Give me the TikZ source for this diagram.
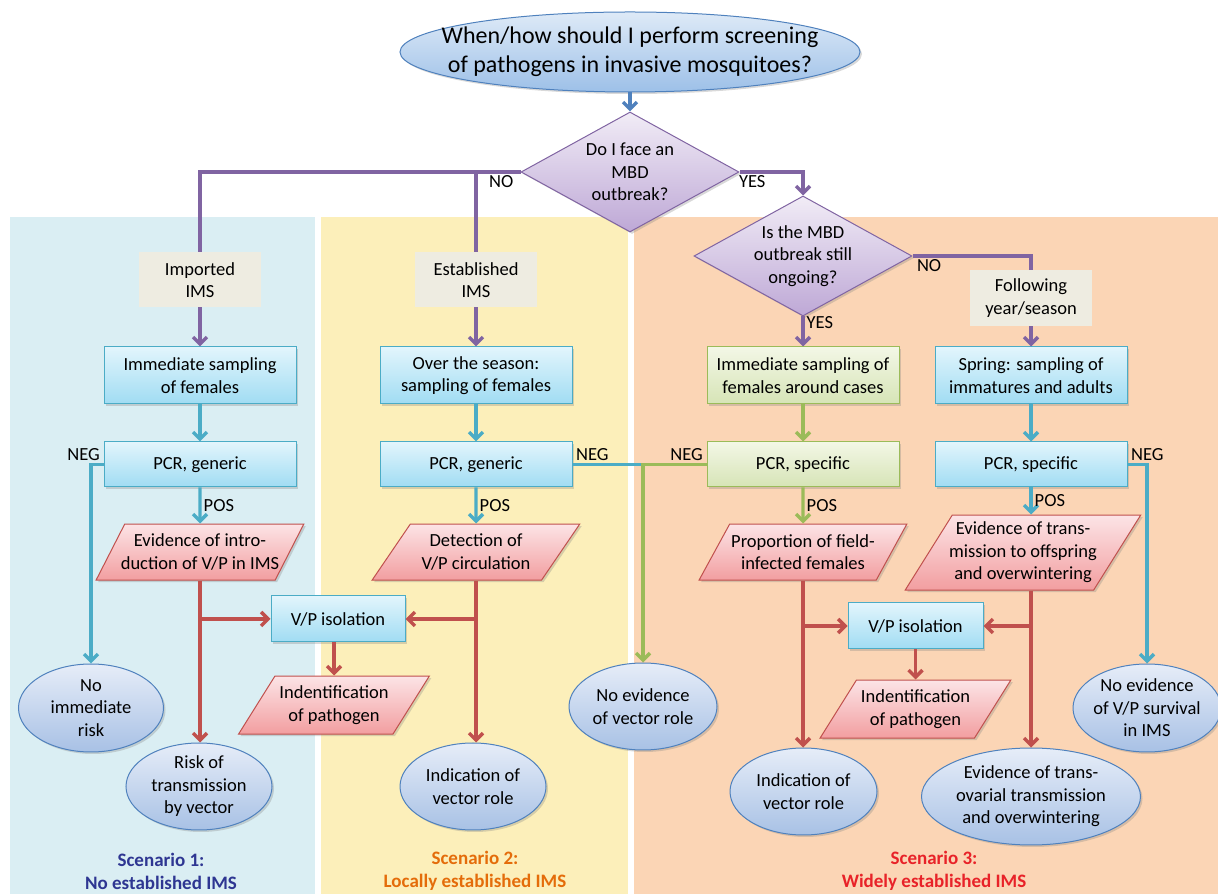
\documentclass[tikz,border=0pt]{standalone}
\usepackage{fontspec}
\setmainfont{Carlito}
\usepackage{tikz}
\usetikzlibrary{arrows.meta,positioning,shapes,shadows}
\definecolor{bluepanel}{RGB}{218,238,243}
\definecolor{yellowpanel}{RGB}{252,239,186}
\definecolor{orangepanel}{RGB}{251,213,181}
\definecolor{qline}{RGB}{79,129,189}
\definecolor{purpleline}{RGB}{128,100,162}
\definecolor{cyanline}{RGB}{75,172,198}
\definecolor{greenline}{RGB}{155,187,89}
\definecolor{redline}{RGB}{192,80,77}
\definecolor{tagfill}{RGB}{238,236,225}
\definecolor{qtop}{RGB}{222,234,247}
\definecolor{qbot}{RGB}{157,192,232}
\definecolor{dtop}{RGB}{241,236,246}
\definecolor{dbot}{RGB}{190,168,214}
\definecolor{btop}{RGB}{226,245,252}
\definecolor{bbot}{RGB}{160,220,243}
\definecolor{gtop}{RGB}{243,247,230}
\definecolor{gbot}{RGB}{214,228,182}
\definecolor{rtop}{RGB}{252,228,230}
\definecolor{rbot}{RGB}{242,158,160}
\definecolor{etop}{RGB}{230,237,248}
\definecolor{ebot}{RGB}{168,193,229}
\definecolor{scenA}{RGB}{46,54,146}
\definecolor{scenB}{RGB}{228,108,10}
\definecolor{scenC}{RGB}{232,34,40}
\newcommand{\bodyfont}{\fontsize{18.5}{22.5}\selectfont}
\tikzstyle{shadowed} = [drop shadow={opacity=0.3, shadow xshift=2pt, shadow yshift=-2pt}]
\tikzstyle{question} = [ellipse, draw=qline, line width=1pt, top color=qtop, bottom color=qbot, inner xsep=-40pt, inner ysep=0pt, minimum width=460pt, minimum height=80pt, align=center, font=\fontsize{24}{29}\selectfont, shadowed]
\tikzstyle{decision} = [diamond, aspect=1.85, draw=purpleline, line width=1pt, top color=dtop, bottom color=dbot, inner sep=0pt, minimum width=218pt, minimum height=120pt, align=center, font=\bodyfont, shadowed]
\tikzstyle{block} = [rectangle, draw=cyanline, line width=1pt, top color=btop, bottom color=bbot, minimum width=192pt, minimum height=57pt, align=center, font=\bodyfont, shadowed]
\tikzstyle{greenblock} = [block, draw=greenline, top color=gtop, bottom color=gbot]
\tikzstyle{result} = [trapezium, trapezium left angle=56, trapezium right angle=124, trapezium stretches=true, draw=redline, line width=1pt, top color=rtop, bottom color=rbot, inner xsep=-8pt, inner ysep=2pt, minimum width=208pt, minimum height=56pt, align=center, font=\bodyfont, shadowed]
\tikzstyle{outcome} = [ellipse, draw=qline, line width=1pt, top color=etop, bottom color=ebot, inner sep=-6pt, minimum width=146pt, minimum height=88pt, align=center, font=\bodyfont, shadowed]
\tikzstyle{tagbox} = [rectangle, fill=tagfill, minimum width=122pt, minimum height=55pt, align=center, font=\bodyfont]
\tikzstyle{ans} = [font=\bodyfont, text=black, inner sep=2pt]
\tikzstyle{scen} = [align=center, font=\fontsize{19}{23}\selectfont\bfseries]
\tikzstyle{flow} = [line width=3.4pt, -{Straight Barb[length=7pt,width=14pt]}]

\begin{document}
\begin{tikzpicture}[x=1pt, y=1pt]
  \useasboundingbox (0,0) rectangle (1218,894);
  \fill[bluepanel] (10,0) rectangle (315,677);
  \fill[yellowpanel] (321,0) rectangle (628,677);
  \fill[orangepanel] (634,0) rectangle (1218,677);

  \node[question] (Q) at (630,842) {When/how should I perform screening\\ of pathogens in invasive mosquitoes?};
  \node[decision] (D1) at (630,722) {Do I face an\\ MBD\\ outbreak?};
  \node[decision] (D2) at (803,638) {Is the MBD\\ outbreak still\\ ongoing?};

  \node[block] (S1) at (200,518.5) {Immediate sampling\\ of females};
  \node[block] (S2) at (476,518.5) {Over the season:\\ sampling of females};
  \node[greenblock] (S3) at (803,518.5) {Immediate sampling of\\ females around cases};
  \node[block] (S4) at (1031,518.5) {Spring: sampling of\\ immatures and adults};

  \node[block, minimum height=45pt, below=37pt of S1] (P1) {PCR, generic};
  \node[block, minimum height=45pt, below=37pt of S2] (P2) {PCR, generic};
  \node[greenblock, minimum height=45pt, below=37pt of S3] (P3) {PCR, specific};
  \node[block, minimum height=45pt, below=37pt of S4] (P4) {PCR, specific};

  \node[result, below=36pt of P1] (R1) {Evidence of intro-\\ duction of V/P in IMS};
  \node[result, below=36pt of P2] (R2) {Detection of\\ V/P circulation};
  \node[result, below=36pt of P3] (R3) {Proportion of field-\\ infected females};
  \node[result, minimum width=236pt, minimum height=75pt, below=27pt of P4, xshift=-8pt] (R4) {Evidence of trans-\\ mission to offspring\\ and overwintering};

  \node[block, minimum width=134pt, minimum height=46pt] (V1) at (338,275) {V/P isolation};
  \node[block, minimum width=135pt, minimum height=46pt] (V2) at (915.5,268) {V/P isolation};
  \node[result, minimum width=191pt, minimum height=58pt, below=33pt of V1, xshift=-4pt] (ID1) {Indentification\\ of pathogen};
  \node[result, minimum width=191pt, minimum height=58pt, below=30pt of V2] (ID2) {Indentification\\ of pathogen};

  \node[outcome, minimum width=145pt] (N1) at (91,186) {No\\ immediate\\ risk};
  \node[outcome, minimum height=87pt] (K1) at (199,107.5) {Risk of\\ transmission\\ by vector};
  \node[outcome, minimum height=87pt] (K2) at (473,107.5) {Indication of\\ vector role};
  \node[outcome, minimum width=148pt, minimum height=87pt] (N2) at (643,187.5) {No evidence\\ of vector role};
  \node[outcome, minimum width=147pt, minimum height=87pt] (K3) at (803.5,102.5) {Indication of\\ vector role};
  \node[outcome, minimum width=219pt, minimum height=97pt] (X4) at (1031,97.5) {Evidence of trans-\\ ovarial transmission\\ and overwintering};
  \node[outcome, minimum width=148pt] (N4) at (1147,186) {No evidence\\ of V/P survival\\ in IMS};

  \draw[flow, qline] (Q) -- (D1);
  \draw[flow, purpleline] (D1.west) -| node[ans, below, pos=0.03] {NO} (S1.north);
  \draw[flow, purpleline] (D1.west -| S2.north) -- (S2.north);
  \draw[flow, purpleline] (D1.east) -| node[ans, below, pos=0.1] {YES} (D2.north);
  \draw[flow, purpleline] (D2.east) -| node[ans, below, pos=0.07] {NO} (S4.north);
  \draw[flow, purpleline] (D2.south) -- node[ans, right, pos=0.2] {YES} (S3.north);

  \draw[flow, cyanline] (S1) -- (P1);
  \draw[flow, cyanline] (S2) -- (P2);
  \draw[flow, greenline] (S3) -- (P3);
  \draw[flow, cyanline] (S4) -- (P4);
  \draw[flow, cyanline] (P1) -- node[ans, right] {POS} (R1);
  \draw[flow, cyanline] (P2) -- node[ans, right] {POS} (R2);
  \draw[flow, greenline] (P3) -- node[ans, right] {POS} (R3);
  \draw[flow, cyanline] (P4.south) -- node[ans, right] {POS} (P4.south |- R4.north);

  \draw[flow, cyanline] (P1.west) node[ans, above left] {NEG} -| (N1.north);
  \draw[line width=3.4pt, cyanline] (P2.east) node[ans, above right] {NEG} -- (P2.east -| N2.north);
  \draw[flow, greenline] (P3.west) node[ans, above left] {NEG} -| (N2.north);
  \draw[flow, cyanline] (P4.east) node[ans, above right] {NEG} -| (N4.north);

  \draw[flow, redline] (R1.south) -- (R1.south |- K1.north);
  \draw[flow, redline] (R1.south |- V1.west) -- (V1.west);
  \draw[flow, redline] (R2.south) -- (R2.south |- K2.north);
  \draw[flow, redline] (R2.south |- V1.east) -- (V1.east);
  \draw[flow, redline] (V1.south -| ID1.north) -- (ID1.north);
  \draw[flow, redline] (R3.south) -- (R3.south |- K3.north);
  \draw[flow, redline] (R3.south |- V2.west) -- (V2.west);
  \draw[flow, redline] (R4.south -| P4.south) -- (X4.north);
  \draw[flow, redline] (P4.south |- V2.east) -- (V2.east);
  \draw[flow, redline] (V2.south) -- (ID2.north);

  \node[tagbox] (I1) at (200,614) {Imported\\ IMS};
  \node[tagbox] (E2) at (476,614) {Established\\ IMS};
  \node[tagbox, minimum height=56pt] (F3) at (1031,596) {Following\\ year/season};

  \node[scen, text=scenA] (SC1) at (161,23) {Scenario 1:\\ No established IMS};
  \node[scen, text=scenB] (SC2) at (475,23) {Scenario 2:\\ Locally established IMS};
  \node[scen, text=scenC] (SC3) at (934,23) {Scenario 3:\\ Widely established IMS};
\end{tikzpicture}
\end{document}
